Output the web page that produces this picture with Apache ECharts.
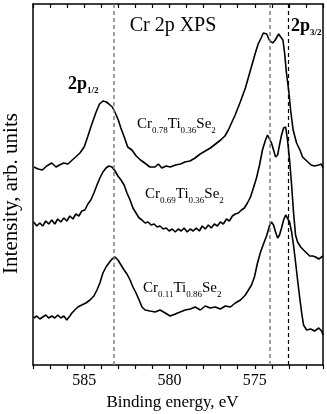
<!DOCTYPE html>
<html>
<head>
<meta charset="utf-8">
<script src="https://cdn.jsdelivr.net/npm/echarts@6/dist/echarts.min.js"></script>
<style>
html, body { margin: 0; padding: 0; background: #fff; }
#chart { width: 327px; height: 414px; }
</style>
</head>
<body>
<div id="chart"></div>
<script>
// Cr 2p XPS spectra, binding energy (eV) and intensity (arb. units, offset per sample)
var energy1 = [587.95, 587.7, 587.45, 587.2, 586.9, 586.65, 586.45, 586.2, 585.95, 585.7, 585.5, 585.25, 585.0, 584.8, 584.55, 584.3, 584.1, 583.9, 583.7, 583.55, 583.35, 583.2, 583.0, 582.85, 582.65, 582.45, 582.2, 581.95, 581.7, 581.45, 581.15, 580.85, 580.65, 580.45, 580.2, 579.95, 579.65, 579.35, 579.1, 578.8, 578.5, 578.2, 577.9, 577.6, 577.3, 577.0, 576.75, 576.55, 576.15, 575.85, 575.55, 575.25, 574.95, 574.8, 574.6, 574.5, 574.3, 574.15, 573.95, 573.8, 573.6, 573.5, 573.35, 573.25, 573.15, 573.0, 572.9, 572.75, 572.55, 572.35, 572.2, 571.95, 571.7, 571.5, 571.25, 571.1, 571.0];
var intens1 = [198, 196, 195, 199, 202, 198, 200, 202, 201, 205, 208, 212, 218, 228, 241, 253, 261, 264, 263, 261, 258, 253, 245, 237, 228, 218, 215, 209, 205, 202, 198, 198, 201, 197, 199, 198, 200, 201, 203, 204, 207, 211, 214, 217, 221, 225, 229, 235, 250, 263, 277, 295, 313, 321, 328, 332, 331, 325, 322, 325, 331, 333, 325, 312, 293, 273, 255, 235, 222, 215, 208, 204, 200, 199, 200, 201, 197];

var energy2 = [587.96, 587.78, 587.6, 587.43, 587.25, 587.08, 586.9, 586.72, 586.55, 586.37, 586.19, 586.02, 585.84, 585.66, 585.49, 585.31, 585.14, 584.96, 584.78, 584.61, 584.43, 584.25, 584.08, 583.9, 583.72, 583.55, 583.37, 583.19, 583.02, 582.84, 582.66, 582.49, 582.31, 582.14, 581.96, 581.78, 581.61, 581.43, 581.25, 581.08, 580.9, 580.72, 580.55, 580.37, 580.19, 580.02, 579.84, 579.66, 579.49, 579.31, 579.14, 578.96, 578.78, 578.61, 578.43, 578.25, 578.08, 577.9, 577.72, 577.55, 577.37, 577.19, 577.02, 576.84, 576.66, 576.49, 576.31, 576.14, 575.96, 575.78, 575.61, 575.43, 575.25, 575.08, 574.9, 574.72, 574.55, 574.37, 574.25, 574.14, 574.02, 573.9, 573.78, 573.66, 573.55, 573.43, 573.31, 573.19, 573.08, 572.96, 572.84, 572.73, 572.61, 572.49, 572.31, 572.14, 571.96, 571.78, 571.61, 571.43, 571.25, 571.08, 571.0];
var intens2 = [143, 139, 142, 139, 144, 141, 145, 141, 146, 143, 147, 144, 149, 146, 151, 149, 154, 155, 161, 165, 172, 180, 187, 193, 197, 199, 198, 194, 189, 185, 180, 172, 165, 157, 152, 147, 145, 142, 143, 140, 141, 138, 139, 136, 137, 134, 136, 133, 136, 134, 137, 133, 136, 134, 137, 134, 139, 136, 140, 137, 141, 139, 143, 141, 146, 144, 149, 151, 152, 155, 157, 162, 168, 177, 187, 200, 215, 225, 230, 228, 222, 215, 208, 210, 220, 230, 237, 238, 225, 205, 180, 153, 130, 123, 118, 115, 112, 109, 109, 108, 106, 108, 109];

var energy3 = [587.96, 587.78, 587.6, 587.43, 587.25, 587.08, 586.9, 586.72, 586.55, 586.37, 586.19, 586.02, 585.84, 585.72, 585.55, 585.37, 585.14, 584.9, 584.66, 584.43, 584.25, 584.08, 583.9, 583.72, 583.55, 583.37, 583.19, 583.02, 582.84, 582.66, 582.49, 582.31, 582.14, 581.96, 581.78, 581.61, 581.43, 581.14, 580.84, 580.55, 580.25, 579.96, 579.66, 579.37, 579.08, 578.78, 578.49, 578.19, 577.9, 577.61, 577.31, 577.02, 576.72, 576.43, 576.14, 575.84, 575.55, 575.37, 575.19, 575.02, 574.84, 574.66, 574.49, 574.31, 574.14, 574.02, 573.9, 573.78, 573.66, 573.55, 573.43, 573.31, 573.19, 573.08, 572.96, 572.84, 572.73, 572.61, 572.49, 572.37, 572.25, 572.14, 571.96, 571.72, 571.49, 571.25, 571.08, 571.0];
var intens3 = [47, 49, 46, 48, 50, 47, 49, 47, 50, 47, 49, 45, 49, 52, 55, 58, 60, 62, 65, 69, 75, 82, 92, 98, 102, 106, 108, 105, 100, 95, 91, 85, 78, 72, 65, 58, 55, 54, 53, 55, 52, 49, 51, 53, 55, 56, 58, 55, 59, 57, 58, 56, 59, 58, 62, 65, 70, 75, 80, 88, 102, 113, 121, 129, 139, 143, 140, 133, 127, 130, 137, 145, 150, 152, 143, 133, 120, 103, 85, 68, 52, 40, 35, 36, 34, 37, 34, 30];

// dashed reference lines (eV): 2p1/2, 2p3/2 (gray) and 2p3/2 (black)
var grayLines = [583.25, 574.14];
var blackLines = [573.06];

var serif = 'Liberation Serif';

function zip(xs, ys) {
	var out = [];
	for (var i = 0; i < xs.length; i++) out.push([xs[i], ys[i]]);
	return out;
}

function compoundLabel(a, b) {
	return '{m|Cr}{s|' + a + '}{m|Ti}{s|' + b + '}{m|Se}{s|2}';
}

var subRich = {
	m: { fontFamily: serif, fontSize: 15, lineHeight: 21, fill: '#000' },
	s: { fontFamily: serif, fontSize: 9, lineHeight: 9, verticalAlign: 'bottom', fill: '#000' }
};
var peakRich = {
	m: { fontFamily: serif, fontSize: 18, fontWeight: 'bold', lineHeight: 23, fill: '#000' },
	s: { fontFamily: serif, fontSize: 9, fontWeight: 'bold', lineHeight: 9, verticalAlign: 'bottom', fill: '#000' }
};

var markLines = [];
grayLines.forEach(function (v) {
	markLines.push({ xAxis: v, lineStyle: { color: '#808080' } });
});
blackLines.forEach(function (v) {
	markLines.push({ xAxis: v, lineStyle: { color: '#000', width: 1.2 } });
});

var lineSeries = function (name, data) {
	return {
		name: name,
		type: 'line',
		data: data,
		showSymbol: false,
		symbol: 'none',
		smooth: false,
		lineStyle: { color: '#000', width: 1.6 },
		silent: true
	};
};

var s1 = lineSeries('Cr0.78Ti0.36Se2', zip(energy1, intens1));
s1.markLine = {
	silent: true,
	symbol: ['none', 'none'],
	label: { show: false },
	lineStyle: { type: [4, 3], width: 1.5 },
	data: markLines
};

var chart = echarts.init(document.getElementById('chart'));

chart.setOption({
	animation: false,
	backgroundColor: '#fff',
	grid: { left: 33, right: 4, top: 4, bottom: 49, outerBoundsMode: 'none', containLabel: false },
	xAxis: [
		{
			type: 'value',
			min: 571,
			max: 588,
			interval: 1,
			inverse: true,
			position: 'bottom',
			splitLine: { show: false },
			axisLine: { show: true, onZero: false, lineStyle: { color: '#000', width: 1.5 } },
			axisTick: { show: true, inside: false, length: 4, lineStyle: { color: '#000', width: 1.2 } },
			axisLabel: {
				interval: 0,
				margin: 8,
				color: '#000',
				fontFamily: serif,
				fontSize: 16,
				formatter: function (v) { return v % 5 === 0 ? String(v) : ''; }
			},
			name: 'Binding energy, eV',
			nameLocation: 'middle',
			nameGap: 19,
			nameTextStyle: { color: '#000', fontFamily: serif, fontSize: 17, padding: [0, 11, 0, 0] }
		},
		{
			type: 'value',
			min: 571,
			max: 588,
			interval: 1,
			inverse: true,
			position: 'top',
			splitLine: { show: false },
			axisLine: { show: true, onZero: false, lineStyle: { color: '#000', width: 1.5 } },
			axisTick: { show: true, inside: true, length: 4, lineStyle: { color: '#000', width: 1.2 } },
			axisLabel: { show: false }
		}
	],
	yAxis: [
		{
			type: 'value',
			min: 0,
			max: 361,
			position: 'left',
			splitLine: { show: false },
			axisLine: { show: true, onZero: false, lineStyle: { color: '#000', width: 1.5 } },
			axisTick: { show: false },
			axisLabel: { show: false },
			name: 'Intensity, arb. units',
			nameLocation: 'middle',
			nameGap: 11,
			nameTextStyle: { color: '#000', fontFamily: serif, fontSize: 21, padding: [0, 18, 0, 0] }
		},
		{
			type: 'value',
			min: 0,
			max: 361,
			position: 'right',
			splitLine: { show: false },
			axisLine: { show: true, onZero: false, lineStyle: { color: '#000', width: 1.5 } },
			axisTick: { show: false },
			axisLabel: { show: false }
		}
	],
	series: [
		s1,
		lineSeries('Cr0.69Ti0.36Se2', zip(energy2, intens2)),
		lineSeries('Cr0.11Ti0.86Se2', zip(energy3, intens3))
	],
	graphic: [
		{
			type: 'text', x: 173, y: 26,
			style: { text: 'Cr 2p XPS', fontFamily: serif, fontSize: 20, fill: '#000', align: 'center', verticalAlign: 'middle' }
		},
		{
			type: 'text', left: 68, top: 75,
			style: { text: '{m|2p}{s|1/2}', rich: peakRich }
		},
		{
			type: 'text', left: 291, top: 17,
			style: { text: '{m|2p}{s|3/2}', rich: peakRich }
		},
		{
			type: 'text', left: 137, top: 117,
			style: { text: compoundLabel('0.78', '0.36'), rich: subRich }
		},
		{
			type: 'text', left: 145, top: 187,
			style: { text: compoundLabel('0.69', '0.36'), rich: subRich }
		},
		{
			type: 'text', left: 143, top: 281,
			style: { text: compoundLabel('0.11', '0.86'), rich: subRich }
		}
	]
});
</script>
</body>
</html>
